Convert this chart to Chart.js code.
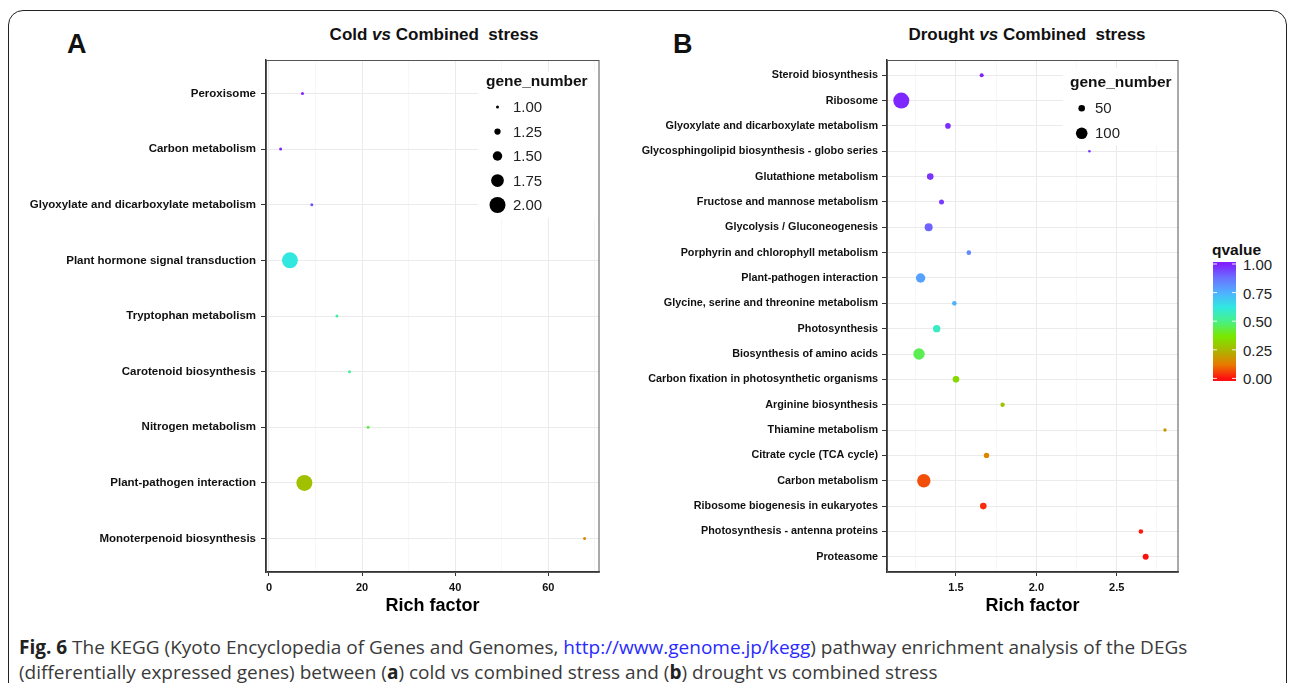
<!DOCTYPE html>
<html>
<head>
<meta charset="utf-8">
<script src="https://cdn.jsdelivr.net/npm/chart.js@4.4.1/dist/chart.umd.min.js"></script>
<style>
html, body { margin: 0; padding: 0; background: #fff; }
#page { position: relative; width: 1292px; height: 683px; overflow: hidden; font-family: 'Liberation Sans', Arial, sans-serif; color: #111; }
#frame { position: absolute; left: 8px; top: 10px; width: 1277px; height: 700px; border: 1.5px solid #222; border-radius: 15px; }
.tag { position: absolute; font-weight: bold; font-size: 27px; line-height: 1; }
.ttl { position: absolute; font-weight: bold; font-size: 17px; white-space: pre; transform: translate(-50%, -50%); line-height: 1; }
canvas.chart { position: absolute; top: 0; }
#qbar { position: absolute; left: 1213px; top: 262px; }
.qlab { position: absolute; left: 1243px; font-size: 15px; line-height: 1; transform: translateY(-50%); color: #222; }
#qtitle { position: absolute; left: 1212px; top: 250px; font-weight: bold; font-size: 15.5px; transform: translateY(-50%); line-height: 1; }
#caption { position: absolute; left: 19px; top: 635px; font-family: 'Open Sans', sans-serif; font-size: 19px; line-height: 25px; color: #3a3a3a; white-space: nowrap; }
#caption b { color: #222; }
#caption a { color: #2a2aff; text-decoration: none; }
</style>
</head>
<body>
<div id="page">
  <div id="frame"></div>
  <div class="tag" style="left:67px;top:31px;">A</div>
  <div class="tag" style="left:673px;top:31px;">B</div>
  <div class="ttl" style="left:434px;top:34px;">Cold <i>vs</i> Combined  stress</div>
  <div class="ttl" style="left:1027px;top:34px;">Drought <i>vs</i> Combined  stress</div>
  <canvas id="coldChart" class="chart" width="620" height="620" style="left:0;width:620px;height:620px;"></canvas>
  <canvas id="droughtChart" class="chart" width="580" height="620" style="left:620px;width:580px;height:620px;"></canvas>
  <div id="qtitle">qvalue</div>
  <canvas id="qbar" width="23" height="119"></canvas>
  <div id="qlabels"></div>
  <div id="caption"><b>Fig. 6</b> The KEGG (Kyoto Encyclopedia of Genes and Genomes, <a>http://www.genome.jp/kegg</a>) pathway enrichment analysis of the DEGs<br>(differentially expressed genes) between (<b>a</b>) cold vs combined stress and (<b>b</b>) drought vs combined stress</div>
</div>
<script>
// ---------- data : A (cold vs combined) ----------
const coldPathways = ['Peroxisome', 'Carbon metabolism', 'Glyoxylate and dicarboxylate metabolism',
  'Plant hormone signal transduction', 'Tryptophan metabolism', 'Carotenoid biosynthesis',
  'Nitrogen metabolism', 'Plant-pathogen interaction', 'Monoterpenoid biosynthesis'];
const coldRich = [7.2, 2.5, 9.2, 4.5, 14.6, 17.3, 21.3, 7.6, 67.8];
const coldGenes = [1, 1, 1, 2, 1, 1, 1, 2, 1];
const coldQ = [1.0, 0.99, 0.93, 0.62, 0.54, 0.52, 0.44, 0.27, 0.15];

// ---------- data : B (drought vs combined) ----------
const droughtPathways = ['Steroid biosynthesis', 'Ribosome', 'Glyoxylate and dicarboxylate metabolism',
  'Glycosphingolipid biosynthesis - globo series', 'Glutathione metabolism', 'Fructose and mannose metabolism',
  'Glycolysis / Gluconeogenesis', 'Porphyrin and chlorophyll metabolism', 'Plant-pathogen interaction',
  'Glycine, serine and threonine metabolism', 'Photosynthesis', 'Biosynthesis of amino acids',
  'Carbon fixation in photosynthetic organisms', 'Arginine biosynthesis', 'Thiamine metabolism',
  'Citrate cycle (TCA cycle)', 'Carbon metabolism', 'Ribosome biogenesis in eukaryotes',
  'Photosynthesis - antenna proteins', 'Proteasome'];
const droughtRich = [1.66, 1.16, 1.45, 2.33, 1.34, 1.41, 1.33, 1.58, 1.28, 1.49,
  1.38, 1.27, 1.50, 1.79, 2.80, 1.69, 1.30, 1.67, 2.65, 2.68];
const droughtGenes = [24, 144, 40, 10, 50, 34, 64, 30, 78, 30, 58, 98, 50, 28, 18, 38, 118, 50, 30, 44];
const droughtQ = [1.0, 0.99, 0.98, 0.97, 0.97, 0.96, 0.90, 0.83, 0.78, 0.74,
  0.58, 0.45, 0.33, 0.28, 0.18, 0.14, 0.07, 0.03, 0.01, 0.0];

// ---------- ticks / legends ----------
const coldXTicks = [0, 10, 20, 30, 40, 50, 60, 70];
const coldXLabels = [0, 20, 40, 60];
const droughtXTicks = [1.25, 1.5, 1.75, 2.0, 2.25, 2.5, 2.75];
const droughtXLabels = [1.5, 2.0, 2.5];
const coldLegendGenes = [1, 1.25, 1.5, 1.75, 2];
const coldLegendText = ['1.00', '1.25', '1.50', '1.75', '2.00'];
const droughtLegendGenes = [50, 100];
const droughtLegendText = ['50', '100'];
const qTicks = [1, 0.75, 0.5, 0.25, 0];
const qTickText = ['1.00', '0.75', '0.50', '0.25', '0.00'];

// colour scale (qvalue)
const qStops = [0, 0.12, 0.25, 0.37, 0.5, 0.62, 0.75, 0.88, 1];
const qColours = ['#ff1010', '#e87a00', '#a8b800', '#78e800', '#48f088', '#30e8e0', '#50b0ff', '#6a70ff', '#8020ff'];

// ---------- utilitaires ----------
const BASE_FONT = "'Liberation Sans', Arial, sans-serif";

function hexRgb(h) { return [1, 3, 5].map(i => parseInt(h.substr(i, 2), 16)); }
function qColour(q) {
  q = Math.max(0, Math.min(1, q));
  let i = 0;
  while (i < qStops.length - 2 && q > qStops[i + 1]) i++;
  const t = (q - qStops[i]) / (qStops[i + 1] - qStops[i]);
  const a = hexRgb(qColours[i]), b = hexRgb(qColours[i + 1]);
  const c = a.map((v, k) => Math.round(v + (b[k] - v) * t));
  return `rgb(${c[0]},${c[1]},${c[2]})`;
}
// point radius grows linearly with gene number between two reference sizes
function sizeScale(n0, n1, r0, r1) {
  return n => Math.max(1.2, r0 + (r1 - r0) * (n - n0) / (n1 - n0));
}
const coldSize = sizeScale(1, 2, 1.5, 8);
const droughtSize = sizeScale(50, 100, 3.3, 5.8);

// légende des tailles dessinée dans la zone du graphe
const sizeLegend = {
  id: 'sizeLegend',
  afterDraw(chart, args, o) {
    const ctx = chart.ctx;
    ctx.save();
    ctx.fillStyle = '#fff';
    ctx.fillRect(o.box[0], o.box[1], o.box[2], o.box[3]);
    ctx.textBaseline = 'middle';
    ctx.fillStyle = '#111';
    ctx.font = `bold 15.5px ${BASE_FONT}`;
    ctx.fillText(o.title, o.titleX, o.titleY);
    ctx.font = `15px ${BASE_FONT}`;
    o.radii.forEach((r, i) => {
      const y = o.y0 + i * o.step;
      ctx.beginPath();
      ctx.arc(o.dotX, y, r, 0, Math.PI * 2);
      ctx.fillStyle = '#000';
      ctx.fill();
      ctx.fillStyle = '#222';
      ctx.fillText(o.labels[i], o.textX, y + 1);
    });
    ctx.restore();
  }
};
// cadre du panneau
const panelFrame = {
  id: 'panelFrame',
  afterDraw(chart) {
    const { ctx, chartArea: a } = chart;
    ctx.save();
    ctx.strokeStyle = '#555';
    ctx.lineWidth = 1;
    ctx.strokeRect(a.left + 0.5, a.top + 0.5, a.right - a.left - 0.5, a.bottom - a.top);
    ctx.restore();
  }
};

function makeChart(id, o) {
  const n = o.cats.length;
  const isMajor = v => o.labels.some(l => Math.abs(l - v) < 1e-9);
  return new Chart(document.getElementById(id), {
    type: 'scatter',
    data: {
      datasets: [{
        data: o.rich.map((x, i) => ({ x: x, y: i })),
        pointRadius: o.genes.map(o.size),
        pointHoverRadius: o.genes.map(o.size),
        pointBackgroundColor: o.q.map(qColour),
        pointBorderWidth: 0,
        pointBorderColor: 'rgba(0,0,0,0)'
      }]
    },
    options: {
      responsive: false,
      animation: false,
      events: [],
      layout: { padding: { top: 60, right: o.padRight, left: 0, bottom: 0 } },
      plugins: {
        legend: { display: false },
        tooltip: { enabled: false },
        sizeLegend: o.legend
      },
      scales: {
        x: {
          type: 'linear',
          min: o.xMin,
          max: o.xMax,
          afterBuildTicks: s => { s.ticks = o.xTicks.map(v => ({ value: v })); },
          afterFit: s => { s.height = 48; },
          ticks: {
            autoSkip: false,
            maxRotation: 0,
            padding: 5,
            color: '#111',
            font: { family: BASE_FONT, size: 11, weight: 'bold' },
            callback: v => isMajor(v) ? o.fmt(v) : ''
          },
          grid: {
            color: c => isMajor(c.tick.value) ? '#ebebeb' : '#f5f5f5',
            lineWidth: c => isMajor(c.tick.value) ? 1 : 0.8,
            tickColor: c => isMajor(c.tick.value) ? '#333' : 'rgba(0,0,0,0)',
            tickLength: 4
          },
          border: { display: true, color: '#333', width: 1.5 },
          title: {
            display: true,
            text: 'Rich factor',
            color: '#000',
            font: { family: BASE_FONT, size: 18, weight: 'bold' },
            padding: { top: 0, bottom: 3 }
          }
        },
        y: {
          type: 'linear',
          reverse: true,
          min: -0.6,
          max: n - 0.4,
          afterBuildTicks: s => { s.ticks = o.cats.map((_, i) => ({ value: i })); },
          afterFit: s => { s.width = o.yWidth; },
          ticks: {
            autoSkip: false,
            padding: o.labelPad,
            color: '#111',
            font: { family: BASE_FONT, size: o.labelSize, weight: 'bold' },
            callback: v => o.cats[v]
          },
          grid: { color: '#ebebeb', lineWidth: 1, tickColor: '#333', tickLength: 5 },
          border: { display: true, color: '#333', width: 1.5 }
        }
      }
    },
    plugins: [sizeLegend, panelFrame]
  });
}

makeChart('coldChart', {
  cats: coldPathways, rich: coldRich, genes: coldGenes, q: coldQ, size: coldSize,
  xMin: -0.64, xMax: 70.9, xTicks: coldXTicks, labels: coldXLabels, fmt: v => String(v),
  yWidth: 266, padRight: 21, labelPad: 5, labelSize: 11.5,
  legend: {
    box: [478, 72, 120, 146], title: 'gene_number', titleX: 486, titleY: 82,
    radii: coldLegendGenes.map(coldSize), labels: coldLegendText,
    dotX: 497.5, textX: 513, y0: 107, step: 24.5
  }
});

makeChart('droughtChart', {
  cats: droughtPathways, rich: droughtRich, genes: droughtGenes, q: droughtQ, size: droughtSize,
  xMin: 1.071, xMax: 2.881, xTicks: droughtXTicks, labels: droughtXLabels, fmt: v => v.toFixed(1),
  yWidth: 267, padRight: 22, labelPad: 4, labelSize: 10.8,
  legend: {
    box: [443, 68, 114, 77], title: 'gene_number', titleX: 450, titleY: 83,
    radii: droughtLegendGenes.map(droughtSize), labels: droughtLegendText,
    dotX: 461.7, textX: 475, y0: 108.3, step: 25
  }
});

// ---------- barre de couleur qvalue ----------
(function () {
  const cv = document.getElementById('qbar');
  const ctx = cv.getContext('2d');
  const yTop = 2, yBottom = 116.4; // q = 1 and q = 0
  for (let j = 0; j < cv.height; j++) {
    const q = (yBottom - (j + 0.5)) / (yBottom - yTop);
    ctx.fillStyle = qColour(q);
    ctx.fillRect(0, j, cv.width, 1);
  }
  ctx.strokeStyle = 'rgba(255,255,255,0.9)';
  ctx.lineWidth = 1;
  const box = document.getElementById('qlabels');
  qTicks.forEach((q, i) => {
    const y = yBottom - q * (yBottom - yTop);
    ctx.beginPath();
    ctx.moveTo(0, y); ctx.lineTo(4, y);
    ctx.moveTo(cv.width - 4, y); ctx.lineTo(cv.width, y);
    ctx.stroke();
    const d = document.createElement('div');
    d.className = 'qlab';
    d.style.top = (262 + y) + 'px';
    d.textContent = qTickText[i];
    box.appendChild(d);
  });
})();
</script>
</body>
</html>
